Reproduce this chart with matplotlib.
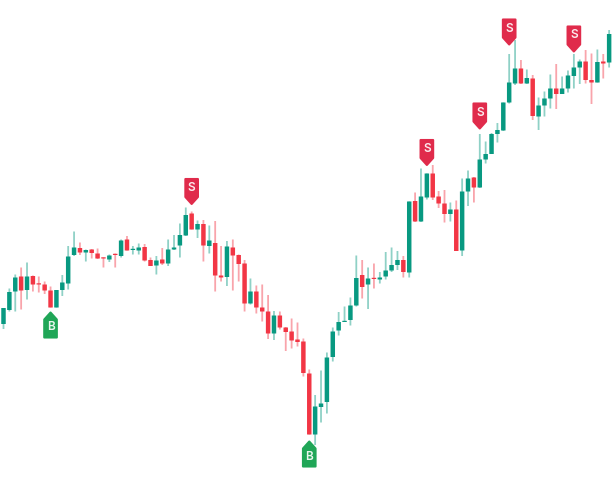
import matplotlib
matplotlib.use("Agg")
import matplotlib.pyplot as plt
from matplotlib.patches import Polygon

# OHLC (price scale is arbitrary)
opens = [158, 172, 190.5, 205.5, 192, 206, 198, 197.5, 191.5, 174.5, 192, 198.5, 227, 234, 229.5, 232.5, 228.5, 224, 222.5, 227.5,
         226, 242.5, 232, 231.5, 235, 222, 216.5, 222.5, 218.5, 232.5, 236.5, 246.5, 268.5, 252.5, 258, 236, 239, 206.5, 205, 234.5,
         227, 218.5, 178.5, 190.5, 174.5, 170.5, 148.5, 166.5, 154.5, 150.5, 142.5, 140.5, 108.5, 47.5, 75, 80,
         125, 151.5, 160, 162, 176.5, 207, 197.5, 203.5, 202.5, 205.5, 211.5, 217, 222, 209.5,
         281, 260.5, 284.5, 308.5, 285.5, 278.5, 268, 272.5, 231.5, 290.5, 304.5, 294.5, 322.5, 328, 348, 351.5,
         379.5, 398.5, 413.5, 398.5, 403.5, 365.5, 376.5, 383.5, 393.5, 388, 393.5, 406, 414.5, 420.5, 402, 399.5, 420.5, 419.5]
highs = [174, 193.5, 207.5, 214.5, 219.5, 206.5, 205.5, 200.5, 195.5, 192, 207, 236, 250.5, 239.5, 232.5, 233, 233.5, 224.5, 227.5, 228.5,
         242.5, 246, 236, 238.5, 238, 224.5, 226, 234, 242.5, 247, 258.5, 274.5, 270.5, 261.5, 262, 256.5, 261, 236, 241, 242.5,
         227.5, 222, 203.5, 196.5, 197.5, 187, 171, 170.5, 155, 163.5, 159.5, 143.5, 112.5, 87, 111.5, 129.5,
         154.5, 170, 175.5, 184.5, 226.5, 222, 214.5, 218.5, 210, 230, 234.5, 231, 226, 280.5,
         289.5, 313.5, 308.5, 317, 291, 292, 279.5, 281.5, 303.5, 311.5, 305, 348, 340.5, 349, 359, 379.5,
         428, 442, 422, 412.5, 407, 384.5, 390.5, 407.5, 418, 405.5, 411.5, 428, 422.5, 432, 428.5, 432.5, 428, 452]
lows = [153, 170.5, 170.5, 172.5, 182.5, 190.5, 189.5, 188, 174.5, 174.5, 186, 192.5, 226, 227, 220.5, 223.5, 223, 214.5, 220, 214.5,
        224.5, 231.5, 227.5, 227.5, 220.5, 216, 207.5, 217, 216, 232, 224.5, 246, 252.5, 244, 220.5, 228.5, 190.5, 200.5, 196, 191.5,
        200.5, 170.5, 177.5, 168.5, 160.5, 143, 142, 152.5, 131, 133.5, 135.5, 105.5, 47.5, 37, 59.5, 68.5,
        120.5, 146.5, 160, 156.5, 175.5, 183.5, 173, 193.5, 198.5, 202.5, 210, 212, 204.5, 204.5,
        260, 260, 282.5, 282, 274, 259.5, 260.5, 231, 226, 276, 279.5, 294, 318.5, 328, 339.5, 351,
        378.5, 397, 398, 398, 362, 352, 365.5, 373.5, 373, 388, 389.5, 393.5, 398, 398.5, 378, 399.5, 403.5, 414.5]
closes = [174, 190, 204.5, 191.5, 205.5, 197.5, 197.5, 191.5, 174.5, 192, 199.5, 225.5, 234.5, 229.5, 232, 229, 223.5, 223.5, 226.5, 227,
          241.5, 231.5, 233, 234.5, 221.5, 216, 221.5, 218.5, 232.5, 234.5, 247, 267, 252.5, 258, 236.5, 241.5, 206.5, 204.5, 235.5, 226.5,
          218, 178.5, 190.5, 174.5, 170.5, 148.5, 166.5, 154.5, 150, 141.5, 140, 109, 47.5, 75.5, 78.5, 124.5,
          150.5, 160, 161, 176.5, 204, 195, 203.5, 203, 204.5, 211.5, 217, 222, 210, 280.5,
          260.5, 285.5, 308.5, 284.5, 278.5, 268, 272.5, 231, 290.5, 303.5, 294.5, 322.5, 328, 348, 352, 379.5,
          399.5, 413.5, 398.5, 404, 366, 376.5, 383.5, 393.5, 388, 393.5, 406.5, 414.5, 420.5, 402, 399.5, 420, 418.5, 448]

# buy / sell flags: candle index and price of the arrow tip
buy_idx = [8, 52]
buy_tip = [169.5, 40.5]
sell_idx = [32, 72, 81, 86, 97]
sell_tip = [278, 317, 353.5, 437.5, 430.5]

UP = "#089981"
DOWN = "#F23645"
BUY = "#20A657"
SELL = "#E02B4B"

fig, ax = plt.subplots(figsize=(6.12, 4.82), dpi=100)
ax.set_position([0, 0, 1, 1])
ax.axis("off")
# 5.88 px per candle, first candle centred at 3.5 px
ax.set_xlim(-3.5 / 5.88, (612 - 3.5) / 5.88)
ax.set_ylim(0, 482)

for i in range(len(opens)):
    col = UP if closes[i] >= opens[i] else DOWN
    wick, = ax.plot([i, i], [lows[i], highs[i]], color=col, alpha=0.45, lw=1.3, solid_capstyle="butt", zorder=2)
    wick.set_snap(False)
    low_body = min(opens[i], closes[i])
    bars = ax.bar(i, max(abs(closes[i] - opens[i]), 1.2), width=0.76, bottom=low_body, color=col, lw=0, zorder=3)
    bars[0].set_snap(False)


# flag size in candle widths / pixels
def flag(i, tip, kind):
    hw = 6.3 / 5.88
    if kind == "B":
        pts = [(i, tip), (i + hw, tip - 7), (i + hw, tip - 25), (i - hw, tip - 25), (i - hw, tip - 7)]
        col, mid = BUY, tip - 15
    else:
        pts = [(i, tip), (i + hw, tip + 7), (i + hw, tip + 25), (i - hw, tip + 25), (i - hw, tip + 7)]
        col, mid = SELL, tip + 16
    ax.add_patch(Polygon(pts, closed=True, fc=col, ec=col, lw=1.5, joinstyle="round", zorder=5))
    ax.text(i, mid, kind, color="white", fontsize=8.5, fontweight="semibold", family="Inter",
            ha="center", va="center", alpha=0.9, zorder=6)


for i, t in zip(buy_idx, buy_tip):
    flag(i, t, "B")
for i, t in zip(sell_idx, sell_tip):
    flag(i, t, "S")

fig.savefig("out.png", dpi=100, facecolor="white")
